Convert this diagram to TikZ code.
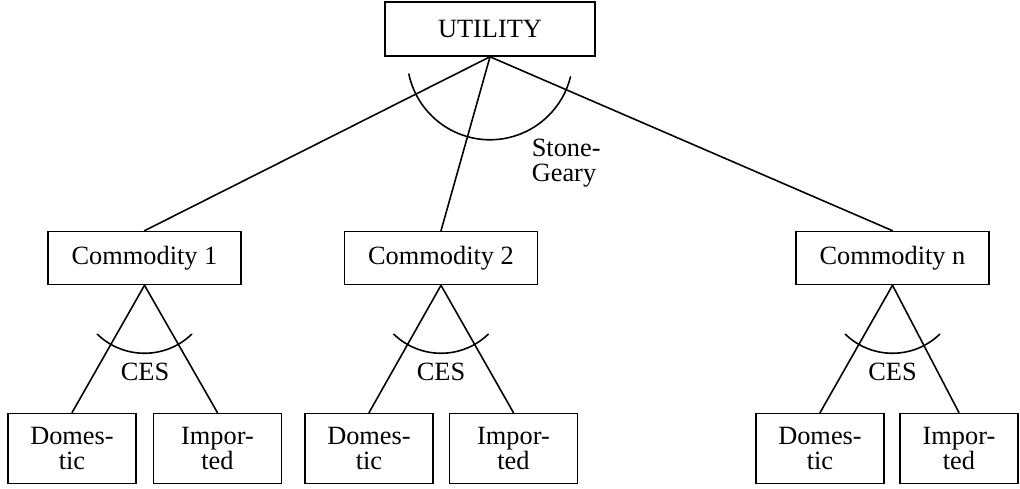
\documentclass[tikz,border=0pt]{standalone}
\usepackage{fontspec}
\setmainfont{Liberation Serif}
\usetikzlibrary{calc}

\begin{document}
\begin{tikzpicture}[x=0.02cm, y=0.02cm, line cap=round, line width=0.9pt,
    box/.style={draw, inner sep=0pt, align=center, font=\fontsize{15}{14}\selectfont},
    topbox/.style={box, minimum width=3.86cm, minimum height=1.06cm},
    leafbox/.style={box, minimum width=2.56cm, minimum height=1.4cm},
    lbl/.style={inner sep=0pt, align=left, font=\fontsize{15}{14}\selectfont}]
    % nutzen -> gueter -> herkunft
    \def\rs{1.66cm}
    \def\rc{1.36cm}
    \useasboundingbox (0,0) rectangle (1020,-489);

    \node[box, minimum width=4.2cm, minimum height=1.08cm] (util) at (490,-29) {UTILITY};

    \node[topbox] (c1) at (144.5,-258) {Commodity 1};
    \node[topbox] (c2) at (441,-258) {Commodity 2};
    \node[topbox] (cn) at (892.5,-258) {Commodity n};

    \node[leafbox] (d1) at (72,-448.5) {Domes-\\tic};
    \node[leafbox] (i1) at (217.5,-448.5) {Impor-\\ted};
    \node[leafbox] (d2) at (369,-448.5) {Domes-\\tic};
    \node[leafbox] (i2) at (513.5,-448.5) {Impor-\\ted};
    \node[leafbox] (dn) at (820,-448.5) {Domes-\\tic};
    \node[leafbox, minimum width=2.36cm] (in) at (959,-448.5) {Impor-\\ted};

    \draw (util.south) -- (c1.north);
    \draw (util.south) -- (c2.north);
    \draw (util.south) -- (cn.north);
    \draw ($(util.south)+(192:\rs)$) arc (192:346:\rs);
    \node[lbl, anchor=west] (sg) at (531,-163) {Stone-\\Geary};

    \draw (c1.south) -- (d1.north);
    \draw (c1.south) -- (i1.north);
    \draw ($(c1.south)+(226:\rc)$) arc (226:314:\rc);
    \node[lbl] (ces1) at (145,-372) {CES};

    \draw (c2.south) -- (d2.north);
    \draw (c2.south) -- (i2.north);
    \draw ($(c2.south)+(226:\rc)$) arc (226:314:\rc);
    \node[lbl] (ces2) at (441,-372) {CES};

    \draw (cn.south) -- (dn.north);
    \draw (cn.south) -- (in.north);
    \draw ($(cn.south)+(226:\rc)$) arc (226:314:\rc);
    \node[lbl] (cesn) at (892.5,-372) {CES};
\end{tikzpicture}
\end{document}
